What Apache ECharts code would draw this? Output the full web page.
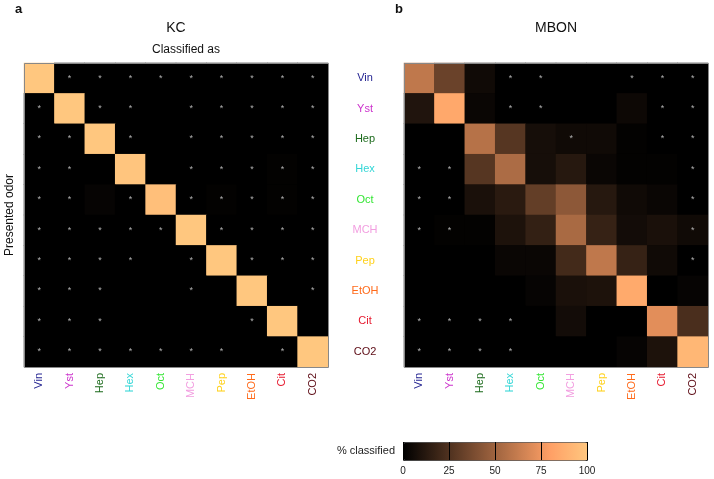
<!DOCTYPE html>
<html>
<head>
<meta charset="utf-8">
<script src="https://cdn.jsdelivr.net/npm/echarts@6/dist/echarts.min.js"></script>
<style>html,body{margin:0;padding:0;background:#fff}#c{width:714px;height:479px}</style>
</head>
<body>
<div id="c"></div>
<script>
const odors = ['Vin','Yst','Hep','Hex','Oct','MCH','Pep','EtOH','Cit','CO2'];
const odorColors = ['#1f1f8f','#cc33cc','#1d6b1d','#33d6d6','#33e633','#f29ee0','#ffd11a','#ff6a1a','#e6192e','#5c0a14'];
const colorbarTicks = [0, 25, 50, 75, 100];

// rows = presented odor, columns = classified as (% classified)
const kcMatrix = [
  [100,0,0,0,0,0,0,0,0,0],
  [0,100,0,0,0,0,0,0,0,0],
  [0,0,100,0,0,0,0,0,0,0],
  [0,0,0,99,0,0,0,0,1,0],
  [0,0,2,0,96,0,1,0,1,0],
  [0,0,0,0,0,100,0,0,0,0],
  [0,0,0,0,0,0,100,0,0,0],
  [0,0,0,0,0,0,0,100,0,0],
  [0,0,0,0,0,0,0,0,100,0],
  [0,0,0,0,0,0,0,0,0,100]
];
const mbonMatrix = [
  [60,33,5,0,0,0,0,0,0,0],
  [10,84,3,0,0,0,0,4,0,0],
  [0,0,57,27,7,5,5,1,0,0],
  [0,0,27,54,7,12,3,1,1,0],
  [0,0,8,13,31,44,12,5,3,0],
  [0,1,1,9,16,53,17,6,8,5],
  [0,0,0,3,3,21,60,17,5,0],
  [0,0,0,0,2,8,9,85,0,2],
  [0,0,0,0,0,6,0,0,71,23],
  [0,0,0,0,0,0,0,2,9,92]
];
// 1 = cell marked with an asterisk
const kcStars = [
  [0,1,1,1,1,1,1,1,1,1],
  [1,0,1,1,0,1,1,1,1,1],
  [1,1,0,1,0,1,1,1,1,1],
  [1,1,0,0,0,1,1,1,1,1],
  [1,1,0,1,0,1,1,1,1,1],
  [1,1,1,1,1,0,1,1,1,1],
  [1,1,1,1,0,1,0,1,1,1],
  [1,1,1,0,0,1,0,0,0,1],
  [1,1,1,0,0,0,0,1,0,0],
  [1,1,1,1,1,1,1,0,1,0]
];
const mbonStars = [
  [0,0,0,1,1,0,0,1,1,1],
  [0,0,0,1,1,0,0,0,1,1],
  [0,0,0,0,0,1,0,0,1,1],
  [1,1,0,0,0,0,0,0,0,1],
  [1,1,0,0,0,0,0,0,0,1],
  [1,1,0,0,0,0,0,0,0,1],
  [0,0,0,0,0,0,0,0,0,1],
  [0,0,0,0,0,0,0,0,0,0],
  [1,1,1,1,0,0,0,0,0,0],
  [1,1,1,1,0,0,0,0,0,0]
];

const FONT = 'Liberation Sans, Arial, Helvetica, sans-serif';
const G = { size: 304, top: 63, left0: 24, left1: 404 };
const CB = { left: 403, top: 442, width: 184, height: 18 };

function buildData(matrix, stars) {
  const out = [];
  for (let r = 0; r < matrix.length; r++) {
    for (let c = 0; c < matrix[r].length; c++) {
      const item = { value: [c, r, matrix[r][c]] };
      if (stars[r][c]) {
        item.label = { show: true, formatter: '*', color: '#b0b0b0', fontSize: 9, fontFamily: FONT };
      }
      out.push(item);
    }
  }
  return out;
}

function xAxisFor(gi) {
  return {
    type: 'category', gridIndex: gi, data: odors, position: 'bottom',
    axisLine: { show: false }, axisTick: { show: false }, splitLine: { show: false },
    axisLabel: { rotate: 90, interval: 0, margin: 6, fontSize: 11, fontFamily: FONT,
      color: (v, i) => odorColors[i] }
  };
}

const chart = echarts.init(document.getElementById('c'), null, { renderer: 'canvas' });
chart.setOption({
  backgroundColor: '#ffffff',
  animation: false,
  grid: [
    { left: G.left0, top: G.top, width: G.size, height: G.size, containLabel: false,
      show: true, backgroundColor: '#000', borderWidth: 0 },
    { left: G.left1, top: G.top, width: G.size, height: G.size, containLabel: false,
      show: true, backgroundColor: '#000', borderWidth: 0 },
    { left: CB.left, top: CB.top, width: CB.width, height: CB.height, containLabel: false }
  ],
  xAxis: [
    xAxisFor(0),
    xAxisFor(1),
    { type: 'value', gridIndex: 2, min: 0, max: 100, interval: 25, z: 10,
      axisLine: { show: false }, axisTick: { show: false },
      splitLine: { show: true, lineStyle: { color: '#000', width: 1 } },
      axisLabel: { fontSize: 10, fontFamily: FONT, color: '#222', margin: 6,
        formatter: v => colorbarTicks.includes(v) ? String(v) : '' } }
  ],
  yAxis: [
    { type: 'category', gridIndex: 0, data: odors, inverse: true,
      axisLine: { show: false }, axisTick: { show: false }, axisLabel: { show: false }, splitLine: { show: false } },
    { type: 'category', gridIndex: 1, data: odors, inverse: true,
      axisLine: { show: false }, axisTick: { show: false }, splitLine: { show: false },
      axisLabel: { align: 'center', margin: 39, fontSize: 11, fontFamily: FONT, interval: 0,
        color: (v, i) => odorColors[i] } },
    { type: 'value', gridIndex: 2, min: 0, max: 1, show: false }
  ],
  visualMap: {
    type: 'continuous', min: 0, max: 100, seriesIndex: [0, 1], dimension: 2,
    orient: 'horizontal', left: CB.left, top: CB.top,
    itemWidth: CB.height, itemHeight: CB.width,
    calculable: false, text: null, showLabel: false, padding: 0,
    borderColor: '#333', borderWidth: 1, z: 2,
    inRange: { color: ['#000000', '#402819', '#805033', '#bf784c', '#ffa066', '#ffc77f'] }
  },
  series: [
    { type: 'heatmap', xAxisIndex: 0, yAxisIndex: 0, data: buildData(kcMatrix, kcStars),
      itemStyle: { borderWidth: 0 }, emphasis: { disabled: true } },
    { type: 'heatmap', xAxisIndex: 1, yAxisIndex: 1, data: buildData(mbonMatrix, mbonStars),
      itemStyle: { borderWidth: 0 }, emphasis: { disabled: true } }
  ],
  graphic: [
    { type: 'text', left: 15, top: 3, style: { text: 'a', font: 'bold 13px ' + FONT, fill: '#111' } },
    { type: 'text', left: 395, top: 3, style: { text: 'b', font: 'bold 13px ' + FONT, fill: '#111' } },
    { type: 'text', x: G.left0 + G.size / 2, y: 28, style: { text: 'KC', font: '14px ' + FONT, fill: '#111', align: 'center', verticalAlign: 'middle' } },
    { type: 'text', x: G.left0 + G.size / 2 + 10, y: 50, style: { text: 'Classified as', font: '12px ' + FONT, fill: '#111', align: 'center', verticalAlign: 'middle' } },
    { type: 'text', x: G.left1 + G.size / 2, y: 28, style: { text: 'MBON', font: '14px ' + FONT, fill: '#111', align: 'center', verticalAlign: 'middle' } },
    { type: 'text', x: 10, y: G.top + G.size / 2, rotation: Math.PI / 2, style: { text: 'Presented odor', font: '12px ' + FONT, fill: '#111', align: 'center', verticalAlign: 'middle' } },
    { type: 'text', x: 395, y: CB.top + CB.height / 2, style: { text: '% classified', font: '11px ' + FONT, fill: '#222', align: 'right', verticalAlign: 'middle' } },
    { type: 'rect', z: 100, shape: { x: G.left0 + 0.5, y: G.top + 0.5, width: G.size, height: G.size }, style: { fill: 'none', stroke: '#888', lineWidth: 1 } },
    { type: 'rect', z: 100, shape: { x: G.left1 + 0.5, y: G.top + 0.5, width: G.size, height: G.size }, style: { fill: 'none', stroke: '#888', lineWidth: 1 } }
  ]
});
</script>
</body>
</html>
